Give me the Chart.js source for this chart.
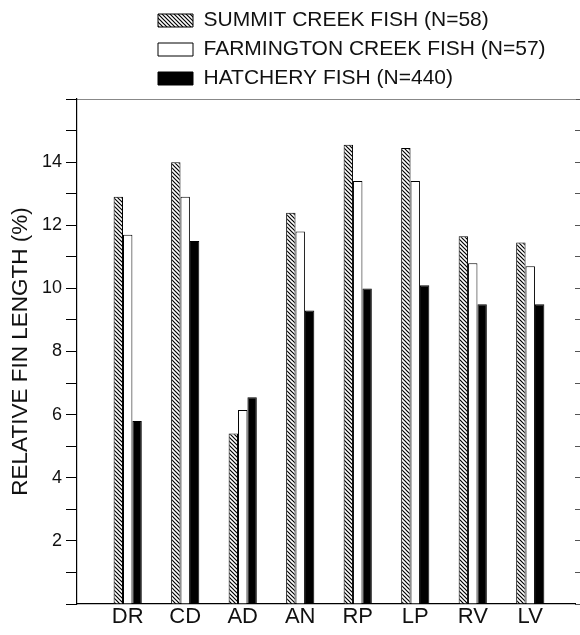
<!DOCTYPE html>
<html>
<head>
<meta charset="utf-8">
<script src="https://cdn.jsdelivr.net/npm/chart.js@4/dist/chart.umd.min.js"></script>
<style>
html,body{margin:0;padding:0;background:#fff;}
#wrap{width:580px;height:635px;}
</style>
</head>
<body>
<div id="wrap"><canvas id="c" width="580" height="635"></canvas></div>
<script>
// ---- data ----
const categories = ['DR', 'CD', 'AD', 'AN', 'RP', 'LP', 'RV', 'LV'];
const seriesNames = ['SUMMIT CREEK FISH (N=58)', 'FARMINGTON CREEK FISH (N=57)', 'HATCHERY FISH (N=440)'];
const summitValues = [12.9, 14.0, 5.4, 12.4, 14.55, 14.45, 11.65, 11.45];
const farmingtonValues = [11.7, 12.9, 6.15, 11.8, 13.4, 13.4, 10.8, 10.7];
const hatcheryValues = [5.8, 11.5, 6.55, 9.3, 10.0, 10.1, 9.5, 9.5];
const yLabelValues = [2, 4, 6, 8, 10, 12, 14];

// ---- styles ----
function hatchPattern() {
  const c = document.createElement('canvas');
  c.width = 4; c.height = 4;
  const g = c.getContext('2d');
  g.fillStyle = '#fff'; g.fillRect(0, 0, 4, 4);
  g.strokeStyle = '#000'; g.lineWidth = 1.2;
  g.beginPath();
  g.moveTo(-1, -1); g.lineTo(5, 5);
  g.moveTo(-1, 3); g.lineTo(1, 5);
  g.moveTo(3, -1); g.lineTo(5, 1);
  g.stroke();
  return g.createPattern(c, 'repeat');
}

const toPoints = arr => arr.map((v, i) => ({x: i, y: v}));

Chart.defaults.font.family = "'Liberation Sans', Arial, sans-serif";
Chart.defaults.color = '#111';

const X_MIN = -0.8816, X_MAX = 7.778;

const legendShift = {
  id: 'legendShift',
  afterLayout(chart) {
    const l = chart.legend;
    if (l) { l.left = 150; }
  }
};

new Chart(document.getElementById('c'), {
  type: 'bar',
  data: {
    datasets: [
      {label: seriesNames[0], data: toPoints(summitValues), backgroundColor: hatchPattern(), borderColor: '#000', borderWidth: 1},
      {label: seriesNames[1], data: toPoints(farmingtonValues), backgroundColor: '#fff', borderColor: '#000', borderWidth: 1},
      {label: seriesNames[2], data: toPoints(hatcheryValues), backgroundColor: '#000', borderColor: '#000', borderWidth: 1}
    ]
  },
  options: {
    responsive: false,
    animation: false,
    devicePixelRatio: 1,
    categoryPercentage: 0.49,
    barPercentage: 1,
    layout: {padding: {top: 2, left: 0, right: 0, bottom: 0}},
    plugins: {
      tooltip: {enabled: false},
      legend: {
        position: 'top',
        align: 'start',
        labels: {
          font: {size: 21},
          color: '#111',
          boxWidth: 35,
          boxHeight: 13,
          padding: 8
        }
      }
    },
    scales: {
      x: {
        type: 'linear',
        position: 'bottom',
        offset: false,
        min: X_MIN,
        max: X_MAX,
        grid: {display: false, drawTicks: false, offset: false},
        border: {display: true, color: '#000', width: 1.2},
        afterBuildTicks: s => { s.ticks = categories.map((c, i) => ({value: i})); },
        afterFit: s => { s.height = 31; },
        ticks: {
          font: {size: 22},
          color: '#111',
          padding: 0,
          maxRotation: 0,
          autoSkip: false,
          callback: v => categories[v]
        }
      },
      xTop: {
        type: 'linear',
        position: 'top',
        axis: 'x',
        offset: false,
        min: 0,
        max: 1,
        grid: {display: false, drawTicks: false},
        ticks: {display: false},
        border: {display: true, color: '#888', width: 1}
      },
      y: {
        type: 'linear',
        position: 'left',
        min: 0,
        max: 16,
        afterFit: s => { s.width = 77; },
        grid: {drawOnChartArea: false, tickLength: 11, color: '#000', lineWidth: 1},
        border: {display: true, color: '#000', width: 1.2},
        ticks: {
          stepSize: 1,
          padding: 4,
          font: {size: 18},
          color: '#111',
          callback: v => yLabelValues.includes(v) ? String(v) : ''
        },
        title: {
          display: true,
          text: 'RELATIVE FIN LENGTH (%)',
          font: {size: 22.5},
          color: '#111',
          padding: {top: 7, bottom: 4}
        }
      },
      yRight: {
        type: 'linear',
        axis: 'y',
        position: 'right',
        min: 0,
        max: 16,
        grid: {drawOnChartArea: false, tickLength: 5, color: '#555', lineWidth: 1},
        border: {display: false},
        ticks: {display: false, stepSize: 1}
      }
    }
  },
  plugins: [legendShift]
});
</script>
</body>
</html>
